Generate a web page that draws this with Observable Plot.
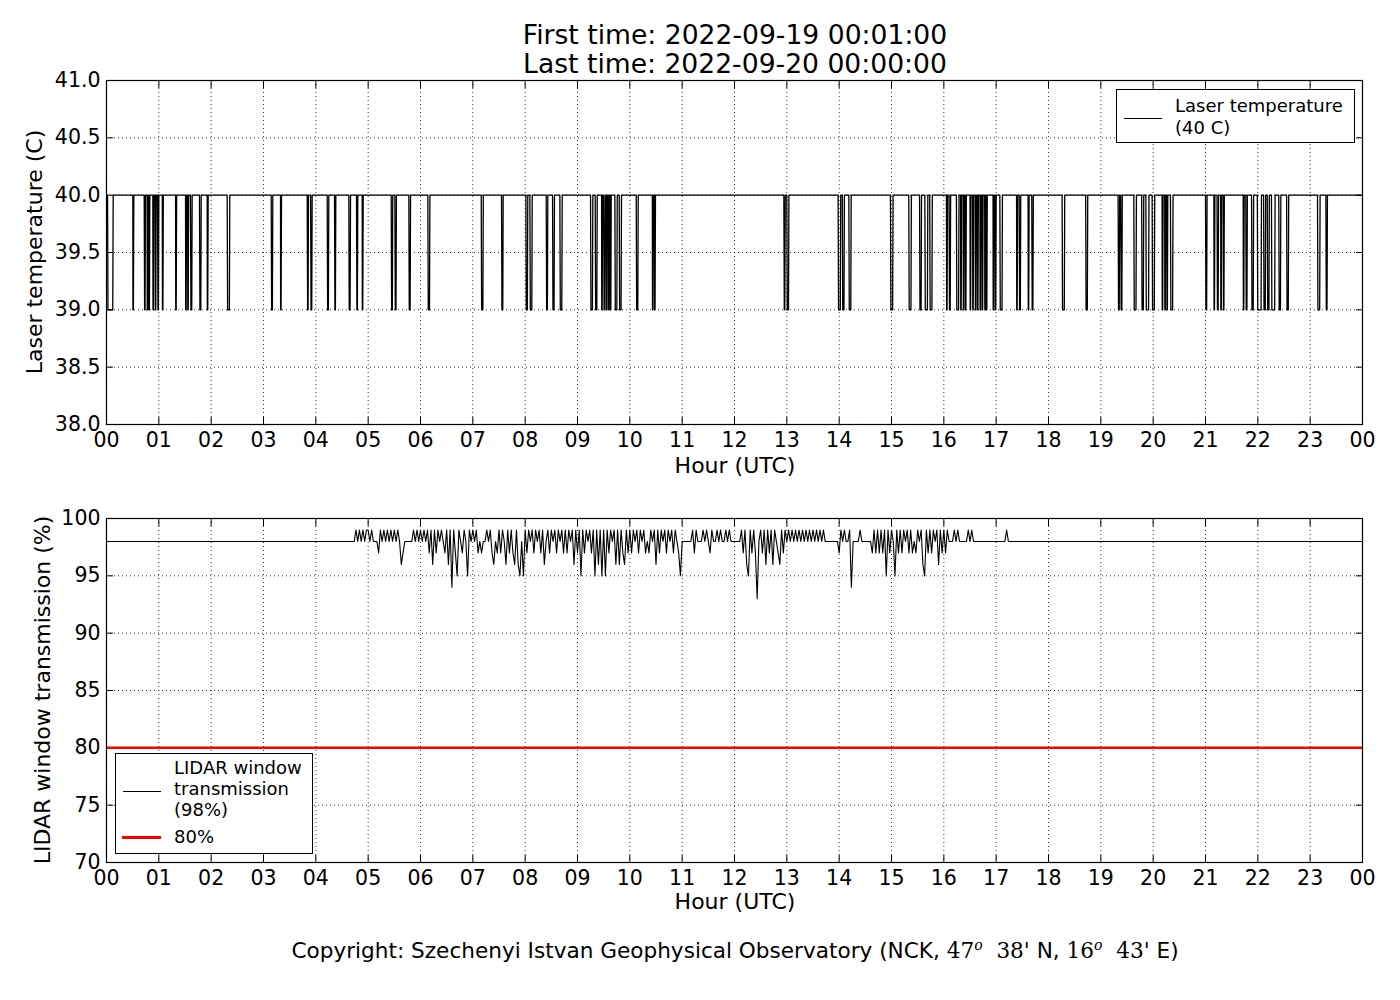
<!DOCTYPE html>
<html><head><meta charset="utf-8">
<script src="https://cdn.jsdelivr.net/npm/d3@7"></script>
<script src="https://cdn.jsdelivr.net/npm/@observablehq/plot@0.6"></script>
<style>
body{margin:0;background:#fff;}
#page{position:relative;width:1400px;height:1000px;background:#fff;font-family:"DejaVu Sans",sans-serif;color:#000;overflow:hidden;}
.t{position:absolute;white-space:nowrap;transform:translate(-50%,-50%);line-height:1;}
.rot{transform:translate(-50%,-50%) rotate(-90deg);}
.plot{position:absolute;left:0;}
.legend{position:absolute;background:#fff;border:1px solid #000;box-sizing:border-box;}
.legend .txt{position:absolute;font-size:18px;white-space:nowrap;line-height:1;transform:translateY(-50%);}
.legend .sw{position:absolute;height:0;}
.serif{font-family:"DejaVu Serif",serif;}
</style></head>
<body>
<div id="page">
  <div class="t" style="left:735px;top:35px;font-size:26.6px;">First time: 2022-09-19 00:01:00</div>
  <div class="t" style="left:735px;top:64px;font-size:26.6px;">Last time: 2022-09-20 00:00:00</div>
  <div id="top" class="plot" style="top:70px;"></div>
  <div id="bottom" class="plot" style="top:508px;"></div>
  <div class="t rot" style="left:35px;top:252px;font-size:22px;">Laser temperature (C)</div>
  <div class="t rot" style="left:43px;top:690px;font-size:22px;">LIDAR window transmission (%)</div>
  <div class="t" style="left:735px;top:466px;font-size:22px;">Hour (UTC)</div>
  <div class="t" style="left:735px;top:902px;font-size:22px;">Hour (UTC)</div>
  <div class="legend" style="left:1116px;top:89px;width:239px;height:54px;">
    <div class="sw" style="left:7px;top:28px;width:38px;border-top:1px solid #000;"></div>
    <div class="txt" style="left:58px;top:16px;">Laser temperature</div>
    <div class="txt" style="left:58px;top:38px;">(40 C)</div>
  </div>
  <div class="legend" style="left:115px;top:753px;width:198px;height:101px;">
    <div class="sw" style="left:7px;top:37px;width:38px;border-top:1px solid #000;"></div>
    <div class="sw" style="left:6px;top:82px;width:39px;border-top:3px solid #ff0000;"></div>
    <div class="txt" style="left:58px;top:14px;">LIDAR window</div>
    <div class="txt" style="left:58px;top:35px;">transmission</div>
    <div class="txt" style="left:58px;top:56px;">(98%)</div>
    <div class="txt" style="left:58px;top:83px;">80%</div>
  </div>
  <div class="t" style="left:735px;top:950px;font-size:21.6px;">Copyright: Szechenyi Istvan Geophysical Observatory (NCK, <span class="serif">47<sup style="font-style:italic;font-size:14px;">o</sup>&nbsp; 38'</span> N, <span class="serif">16<sup style="font-style:italic;font-size:14px;">o</sup>&nbsp; 43'</span> E)</div>
</div>
<script>
// ---- axis ticks / labels ----
const hourTicks = [0,1,2,3,4,5,6,7,8,9,10,11,12,13,14,15,16,17,18,19,20,21,22,23,24];
const hourLabels = ["00","01","02","03","04","05","06","07","08","09","10","11","12","13","14","15","16","17","18","19","20","21","22","23","00"];
const tempTicks = [38.0,38.5,39.0,39.5,40.0,40.5,41.0];
const transTicks = [70,75,80,85,90,95,100];

// ---- laser temperature (C): 40 with short drops to 39 ----
const tempFirstHour = 1/60;   // 00:01
const tempHigh = 40;
const tempLow = 39;
const tempDipStart = [0.02,0.503,0.72,0.777,0.81,0.885,0.93,0.975,1.066,1.32,1.51,1.55,1.605,1.777,1.924,2.306,3.147,3.325,3.835,3.9,4.217,4.357,4.63,4.777,4.886,5.44,5.51,5.777,6.14,7.16,7.548,8.013,8.09,8.402,8.523,8.663,9.249,9.338,9.46,9.5,9.55,9.59,9.625,9.714,9.797,10.122,10.43,10.47,12.943,13.0,13.98,14.06,14.185,14.98,15.33,15.536,15.637,15.73,16.05,16.1,16.24,16.32,16.37,16.41,16.5,16.55,16.6,16.64,16.69,16.73,16.78,16.81,16.94,16.98,17.07,17.39,17.44,17.61,17.68,18.26,18.71,19.33,19.38,19.63,19.78,19.86,19.98,20.17,20.22,20.26,20.33,21.0,21.16,21.22,21.29,21.34,21.72,21.77,21.88,21.99,22.11,22.18,22.26,22.4,22.55,23.14,23.3];
const tempDipEnd   = [0.128,0.522,0.745,0.795,0.828,0.905,0.95,1.0,1.086,1.34,1.53,1.57,1.637,1.81,1.943,2.356,3.178,3.344,3.86,3.93,4.248,4.382,4.663,4.802,4.905,5.47,5.54,5.81,6.18,7.2,7.58,8.05,8.135,8.433,8.56,8.708,9.293,9.377,9.48,9.53,9.57,9.61,9.645,9.76,9.841,10.16,10.45,10.49,12.97,13.04,14.03,14.1,14.23,15.03,15.38,15.574,15.694,15.78,16.07,16.13,16.29,16.34,16.39,16.43,16.52,16.57,16.62,16.66,16.71,16.75,16.8,16.83,16.96,17.0,17.12,17.41,17.47,17.63,17.71,18.31,18.75,19.36,19.41,19.68,19.82,19.92,20.03,20.19,20.24,20.28,20.38,21.03,21.18,21.25,21.31,21.36,21.74,21.8,21.92,22.07,22.15,22.22,22.33,22.44,22.59,23.19,23.33];
const tempEdge = 1/60; // one-minute sample spacing of the drop edges

// ---- LIDAR window transmission (%), 2-minute samples per hour ----
const transBase = 98;
const transThreshold = [80];
const transHour04 = [98,98,98,98,98,98,98,98,98,98, 98,98,98,98,98,98,98,98,98,98, 98,98,98,99,98,99,98,99,98,99];
const transHour05 = [99,98,99,98,98,98,97,99,98,99, 98,99,98,99,98,99,98,99,98,96, 97,98,98,98,98,98,99,98,99,98];
const transHour06 = [99,98,99,98,99,97,99,96,99,97, 99,98,99,98,97,99,96,99,94,99, 97,95,99,98,97,99,98,95,99,98];
const transHour07 = [99,98,99,97,98,97,98,98,99,98, 99,97,96,98,97,99,97,99,98,96, 99,97,99,97,96,99,96,95,98,95];
const transHour08 = [99,97,99,98,99,97,99,98,99,97, 99,96,98,99,97,99,98,99,97,99, 98,99,97,99,97,99,98,99,96,99];
const transHour09 = [97,99,95,99,97,99,98,99,97,99, 95,99,96,99,95,99,95,99,97,99, 98,99,96,99,96,99,97,96,99,97];
const transHour10 = [99,97,99,98,99,97,99,98,99,97, 98,97,99,98,99,96,99,97,99,98, 99,97,99,98,99,97,99,98,97,95];
const transHour11 = [98,98,98,98,98,98,99,97,99,98, 98,98,99,98,99,98,97,99,98,98, 99,98,99,98,98,99,98,99,98,98];
const transHour12 = [98,98,98,98,99,97,99,96,95,99, 97,99,97,93,98,99,97,99,96,99, 97,99,96,99,98,97,96,99,97,99];
const transHour13 = [98,99,98,99,98,99,98,99,98,99, 98,99,98,99,98,99,98,99,98,99, 98,99,98,98,98,98,98,98,98,98];
const transHour14 = [97,99,98,99,98,98,99,94,98,98, 98,98,99,98,98,98,98,98,98,97, 99,97,99,97,99,97,99,95,99,97];
const transHour15 = [99,98,95,99,97,99,97,99,98,99, 97,99,97,98,97,99,98,99,96,95, 99,97,99,97,99,98,99,96,99,97];
const transHour16 = [99,97,99,98,98,98,99,98,99,98, 98,98,98,98,99,98,99,98,98,98, 98,98,98,98,98,98,98,98,98,98];
const transHour17 = [98,98,98,98,98,98,99,98,98,98, 98,98,98,98,98,98,98,98,98,98, 98,98,98,98,98,98,98,98,98,98];
const transHours = [4,5,6,7,8,9,10,11,12,13,14,15,16,17];
const transBlocks = [transHour04,transHour05,transHour06,transHour07,transHour08,transHour09,transHour10,transHour11,transHour12,transHour13,transHour14,transHour15,transHour16,transHour17];

// build tables
const tempData = [{t: tempFirstHour, v: tempHigh}];
tempDipStart.forEach((s, i) => {
  const e = tempDipEnd[i];
  const a = Math.max(s, e - tempEdge);
  tempData.push({t: s, v: tempHigh}, {t: Math.min(s + tempEdge * 0.5, a), v: tempLow}, {t: Math.max(e - tempEdge * 0.5, s), v: tempLow}, {t: e, v: tempHigh});
});
tempData.push({t: 24, v: tempHigh});

const transData = [{t: tempFirstHour, v: transBase}];
transBlocks.forEach((vals, k) => {
  vals.forEach((v, i) => transData.push({t: transHours[k] + i / vals.length, v}));
});
transData.push({t: 24, v: transBase});

const common = {
  width: 1400, height: 414, marginTop: 10, marginBottom: 60, marginLeft: 106, marginRight: 38,
  style: {fontFamily: "DejaVu Sans", fontSize: "20.5px", color: "#000", background: "transparent", overflow: "visible"}
};
const gridStyle = {stroke: "#000", strokeOpacity: 1, strokeWidth: 0.8, strokeDasharray: "1,3"};
const hourFmt = d => hourLabels[hourTicks.indexOf(d)];

function frameMarks(yTicks, yFmt) {
  return [
    Plot.gridX(hourTicks, gridStyle),
    Plot.gridY(yTicks, gridStyle),
    Plot.axisX(hourTicks, {anchor: "bottom", tickFormat: hourFmt, tickSize: -7, tickPadding: 15, label: null, stroke: "#000", strokeWidth: 1}),
    Plot.axisX(hourTicks, {anchor: "top", tickFormat: () => "", tickSize: -7, label: null, stroke: "#000", strokeWidth: 1}),
    Plot.axisY(yTicks, {anchor: "left", tickFormat: yFmt, tickSize: -7, tickPadding: 13, label: null, stroke: "#000", strokeWidth: 1}),
    Plot.axisY(yTicks, {anchor: "right", tickFormat: () => "", tickSize: -7, label: null, stroke: "#000", strokeWidth: 1})
  ];
}

const topPlot = Plot.plot({
  ...common,
  x: {domain: [0, 24]},
  y: {domain: [38, 41]},
  marks: [
    ...frameMarks(tempTicks, d3.format(".1f")),
    Plot.line(tempData, {x: "t", y: "v", stroke: "#000", strokeWidth: 1.3}),
    Plot.frame({stroke: "#000", strokeWidth: 1.2})
  ]
});
document.getElementById("top").appendChild(topPlot);

const bottomPlot = Plot.plot({
  ...common,
  x: {domain: [0, 24]},
  y: {domain: [70, 100]},
  marks: [
    ...frameMarks(transTicks, d3.format("d")),
    Plot.ruleY(transThreshold, {stroke: "#ff0000", strokeWidth: 2.5}),
    Plot.line(transData, {x: "t", y: "v", stroke: "#000", strokeWidth: 1.1}),
    Plot.frame({stroke: "#000", strokeWidth: 1.2})
  ]
});
document.getElementById("bottom").appendChild(bottomPlot);
</script>
</body></html>
